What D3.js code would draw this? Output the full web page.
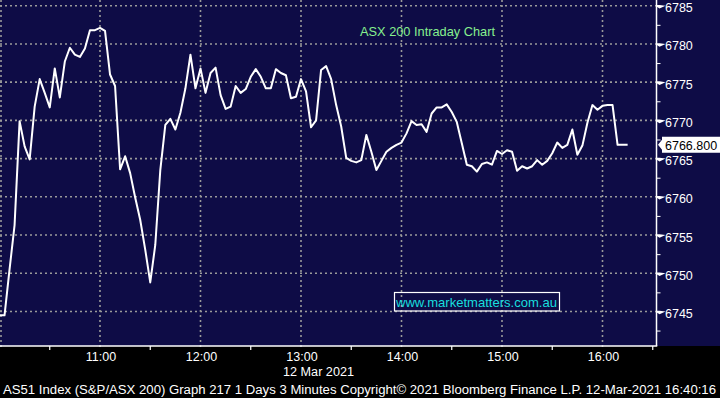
<!DOCTYPE html>
<html>
<head>
<meta charset="utf-8">
<script src="https://cdn.jsdelivr.net/npm/d3@7"></script>
<style>
  html, body { margin: 0; padding: 0; background: #000; }
  svg { display: block; }
  text { font-family: "Liberation Sans", Arial, sans-serif; }
</style>
</head>
<body>
<div id="chart"></div>
<script>

// session info
var startTime = "10:00";
var barMinutes = 3;

// ASX 200 index, one value per 3 minute bar
var prices = [
    6744.5, 6744.5, 6750.5, 6756.3, 6769.9, 6766.6, 6764.9, 6771.8, 6775.4, 6773.6,
    6771.7, 6776.8, 6773.0, 6777.7, 6779.5, 6778.6, 6778.3, 6779.4, 6781.8, 6781.8,
    6782.1, 6781.7, 6776.0, 6774.5, 6763.6, 6765.3, 6763.1, 6759.9, 6757.0, 6753.1,
    6748.8, 6753.7, 6763.5, 6769.4, 6770.2, 6768.8, 6771.0, 6774.2, 6778.6, 6774.2,
    6776.8, 6773.6, 6776.2, 6776.9, 6773.3, 6771.5, 6771.8, 6774.5, 6773.6, 6774.1,
    6775.7, 6776.7, 6775.7, 6774.2, 6774.2, 6776.7, 6776.2, 6775.9, 6772.9, 6773.1,
    6775.4, 6773.8, 6769.1, 6770.0, 6776.6, 6777.1, 6775.4, 6772.0, 6769.2, 6765.1,
    6764.7, 6764.5, 6764.8, 6768.1, 6765.9, 6763.5, 6764.7, 6765.9, 6766.4, 6766.8,
    6767.1, 6768.3, 6769.9, 6769.4, 6769.5, 6768.5, 6770.9, 6771.7, 6771.7, 6772.1,
    6771.1, 6769.8, 6767.0, 6764.2, 6764.0, 6763.3, 6764.3, 6764.5, 6764.2, 6766.0,
    6765.6, 6766.1, 6765.9, 6763.4, 6764.0, 6763.7, 6764.0, 6764.8, 6764.2, 6764.7,
    6765.7, 6767.1, 6766.4, 6766.8, 6768.8, 6765.5, 6766.7, 6769.7, 6772.0, 6771.4,
    6771.9, 6772.0, 6772.0, 6766.8, 6766.8, 6766.8
];

// axis labels
var yTicks = [6745, 6750, 6755, 6760, 6765, 6770, 6775, 6780, 6785];
var hourTicks = ["10:00", "11:00", "12:00", "13:00", "14:00", "15:00", "16:00"];
var hourLabels = ["11:00", "12:00", "13:00", "14:00", "15:00", "16:00"];
var halfTicks = ["10:30", "11:30", "12:30", "13:30", "14:30", "15:30", "16:30"];
var lastPrice = "6766.800";
var dateLabel = "12 Mar 2021";
var chartTitle = "ASX 200 Intraday Chart";
var siteLabel = "www.marketmatters.com.au";
var footer = "AS51 Index (S&P/ASX 200) Graph 217 1 Days 3 Minutes Copyright\u00a9 2021 Bloomberg Finance L.P. 12-Mar-2021 16:40:16";

var W = 720, H = 398;
var plotW = 656.5, plotH = 346;
var navy = "#0e0c46";

var parse = d3.timeParse("%H:%M");
var t0 = parse(startTime);

var data = prices.map(function(v, i) {
    return {t: d3.timeMinute.offset(t0, i * barMinutes), v: v};
});

var xScale = d3.scaleTime()
    .domain([t0, parse("16:32")])
    .range([-0.5, 656.1]);

var yScale = d3.scaleLinear()
    .domain([6740.48, 6785.75])
    .range([plotH, 0]);

var svg = d3.select("#chart")
    .append("svg")
    .attr("width", W)
    .attr("height", H);

// backgrounds
svg.append("rect").attr("width", W).attr("height", H).attr("fill", "#000");
svg.append("rect").attr("width", W).attr("height", plotH).attr("fill", navy);

// dotted grid
svg.selectAll(".hgrid")
    .data(yTicks)
    .enter().append("line")
    .attr("class", "hgrid")
    .attr("x1", 0).attr("x2", plotW)
    .attr("y1", function(d) { return yScale(d); })
    .attr("y2", function(d) { return yScale(d); })
    .attr("stroke", "#9a9a9a")
    .attr("stroke-width", 1.6)
    .attr("stroke-dasharray", "2,3");

svg.selectAll(".vgrid")
    .data(hourTicks)
    .enter().append("line")
    .attr("class", "vgrid")
    .attr("x1", function(d) { return Math.max(1, xScale(parse(d))); })
    .attr("x2", function(d) { return Math.max(1, xScale(parse(d))); })
    .attr("y1", 0).attr("y2", plotH + 4)
    .attr("stroke", "#9a9a9a")
    .attr("stroke-width", 1.6)
    .attr("stroke-dasharray", "2,3");

// price line
var line = d3.line()
    .x(function(d) { return xScale(d.t); })
    .y(function(d) { return yScale(d.v); });

svg.append("path")
    .datum(data)
    .attr("d", line)
    .attr("fill", "none")
    .attr("stroke", "#fff")
    .attr("stroke-width", 2)
    .attr("stroke-linejoin", "round");

// title and website box
svg.append("text")
    .attr("x", 360).attr("y", 36)
    .attr("fill", "#86f08e")
    .attr("font-size", 13.5)
    .attr("textLength", 135)
    .attr("lengthAdjust", "spacingAndGlyphs")
    .text(chartTitle);

svg.append("rect")
    .attr("x", 394.5).attr("y", 292.5)
    .attr("width", 165).attr("height", 18.5)
    .attr("fill", "none")
    .attr("stroke", "#fff")
    .attr("stroke-width", 1.2);

svg.append("text")
    .attr("x", 396).attr("y", 307)
    .attr("fill", "#19dede")
    .attr("font-size", 13)
    .attr("textLength", 161)
    .attr("lengthAdjust", "spacingAndGlyphs")
    .text(siteLabel);

// right axis
var yAxis = d3.axisRight(yScale)
    .tickValues(d3.range(6742.5, 6786, 2.5))
    .tickSize(4)
    .tickFormat("");

svg.append("g")
    .attr("transform", "translate(" + plotW + ",0)")
    .call(yAxis)
    .call(function(g) {
        g.select(".domain").attr("stroke", "#fff").attr("stroke-width", 1.5)
            .attr("d", "M0,0V" + plotH);
        g.selectAll(".tick line").attr("stroke", "#fff");
    });

// arrow markers + labels for the major y ticks
var yLab = svg.append("g").attr("class", "yLabels");
yLab.selectAll("path")
    .data(yTicks)
    .enter().append("path")
    .attr("d", function(d) {
        var y = yScale(d);
        return "M" + plotW + "," + (y - 0.8) + "H" + (plotW + 3) + "L" + (plotW + 9) + "," + y +
               "L" + (plotW + 3) + "," + (y + 2.8) + "L" + plotW + "," + (y + 0.8) + "Z";
    })
    .attr("fill", "#fff");

yLab.selectAll("text")
    .data(yTicks)
    .enter().append("text")
    .attr("x", 665)
    .attr("y", function(d) { return yScale(d) + 6.5; })
    .attr("fill", "#fff")
    .attr("font-size", 12.5)
    .text(function(d) { return d; });

// last price flag
var yLast = yScale(prices[prices.length - 1]);
svg.append("path")
    .attr("d", "M658," + yLast + "L662," + (yLast - 5) + "V" + (yLast - 8) + "H720V" + (yLast + 8) +
               "H662V" + (yLast + 5) + "Z")
    .attr("fill", "#fff");
svg.append("text")
    .attr("x", 665).attr("y", yLast + 5)
    .attr("fill", "#000")
    .attr("font-size", 12.5)
    .text(lastPrice);

// bottom axis
svg.append("line")
    .attr("x1", 0).attr("x2", plotW + 0.75)
    .attr("y1", plotH).attr("y2", plotH)
    .attr("stroke", "#fff")
    .attr("stroke-width", 1.5);

svg.selectAll(".halfTick")
    .data(halfTicks)
    .enter().append("line")
    .attr("class", "halfTick")
    .attr("x1", function(d) { return xScale(parse(d)); })
    .attr("x2", function(d) { return xScale(parse(d)); })
    .attr("y1", plotH).attr("y2", plotH + 4)
    .attr("stroke", "#fff")
    .attr("stroke-width", 1.2);

svg.selectAll(".hourLabel")
    .data(hourLabels)
    .enter().append("text")
    .attr("class", "hourLabel")
    .attr("x", function(d) { return xScale(parse(d)) + 1; })
    .attr("y", 361)
    .attr("text-anchor", "middle")
    .attr("fill", "#fff")
    .attr("font-size", 12.5)
    .text(function(d) { return d; });

svg.append("text")
    .attr("x", 283).attr("y", 376)
    .attr("fill", "#fff")
    .attr("font-size", 12.5)
    .attr("textLength", 71)
    .attr("lengthAdjust", "spacingAndGlyphs")
    .text(dateLabel);

// footer
svg.append("text")
    .attr("x", 3).attr("y", 394)
    .attr("fill", "#fff")
    .attr("font-size", 12.5)
    .attr("textLength", 713)
    .attr("lengthAdjust", "spacingAndGlyphs")
    .text(footer);

</script>
</body>
</html>
